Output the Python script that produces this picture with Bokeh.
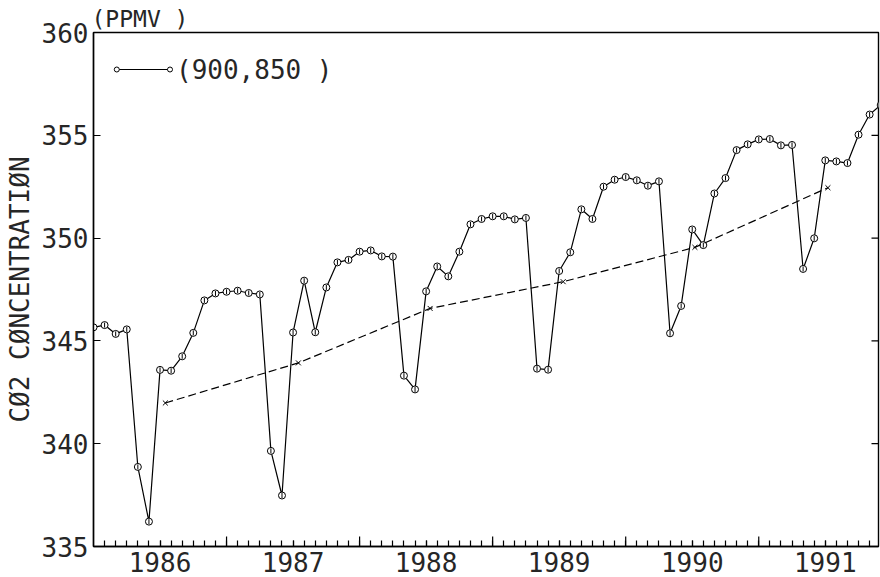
import math
from bokeh.plotting import figure
from bokeh.models import FixedTicker, LinearAxis, Range1d, Label
from bokeh.embed import file_html
from bokeh.resources import INLINE

# ---------------- data ----------------
start_year = 1986
month_index = list(range(72))
co2_monthly = [
    345.66, 345.77, 345.34, 345.56, 338.87, 336.21, 343.59, 343.55, 344.25, 345.39, 346.97, 347.31,
    347.39, 347.44, 347.33, 347.26, 339.65, 337.48, 345.41, 347.93, 345.42, 347.60, 348.82, 348.94,
    349.34, 349.40, 349.11, 349.10, 343.31, 342.64, 347.41, 348.62, 348.14, 349.34, 350.67, 350.93,
    351.06, 351.06, 350.91, 350.98, 343.65, 343.60, 348.40, 349.31, 351.40, 350.93, 352.50, 352.84,
    352.97, 352.81, 352.55, 352.76, 345.37, 346.70, 350.42, 349.66, 352.17, 352.92, 354.28, 354.56,
    354.80, 354.82, 354.51, 354.53, 348.50, 349.99, 353.78, 353.73, 353.65, 355.03, 356.01, 356.47,
]
annual_x = [1986.54, 1987.54, 1988.53, 1989.53, 1990.52, 1991.52]
annual_mean = [341.98, 343.93, 346.58, 347.88, 349.55, 352.45]
year_labels = ["1986", "1987", "1988", "1989", "1990", "1991"]
y_ticks = [335, 340, 345, 350, 355, 360]
series_label = "(900,850 )"
unit_label = "(PPMV )"
y_title = "CØ2 CØNCENTRATIØN"

X_START, X_END = 1986.0, 1991.9
month_x = [start_year + m / 12.0 for m in month_index]
year_centers = [int(y) + 0.5 for y in year_labels]
year_bounds = [int(y) for y in year_labels[1:]]

FONT_NAME = "DejaVu Sans Mono"
INK = "#262626"

p = figure(width=880, height=577, output_backend="svg", toolbar_location=None,
           x_range=Range1d(X_START, X_END), y_range=Range1d(335, 360),
           x_axis_location=None, y_axis_location=None,
           min_border_left=93, min_border_right=2, min_border_top=32, min_border_bottom=31)
p.grid.visible = False
p.outline_line_color = "black"
p.outline_line_width = 1.4
p.background_fill_color = "white"
p.border_fill_color = "white"

# title "(PPMV )" above the frame, left aligned
p.title.text = unit_label
p.title.align = "left"
p.title.text_font = FONT_NAME
p.title.text_font_size = "23px"
p.title.text_font_style = "normal"
p.title.text_color = INK
p.title.standoff = 2
p.title.offset = -2

# left axis with labels and title
yl = LinearAxis(ticker=FixedTicker(ticks=y_ticks))
yl.major_tick_in = 7
yl.major_tick_out = 0
yl.minor_tick_in = 0
yl.minor_tick_out = 0
yl.major_label_standoff = 5
yl.major_label_text_font = FONT_NAME
yl.major_label_text_font_size = "26px"
yl.major_label_text_color = INK
yl.axis_line_color = "black"
yl.axis_line_width = 1.4
yl.axis_label = y_title
yl.axis_label_text_font = FONT_NAME
yl.axis_label_text_font_size = "26px"
yl.axis_label_text_font_style = "normal"
yl.axis_label_text_color = INK
yl.axis_label_standoff = 4
p.add_layout(yl, "left")

# bottom axis: year labels at mid-year, monthly minor ticks
minor = [start_year + m / 12.0 for m in range(1, 71)]
xb = LinearAxis(ticker=FixedTicker(ticks=year_centers, minor_ticks=minor))
xb.major_label_overrides = {c: t for c, t in zip(year_centers, year_labels)}
xb.major_tick_in = 6
xb.major_tick_out = 0
xb.minor_tick_in = 6
xb.minor_tick_out = 0
xb.major_label_standoff = 5
xb.major_label_text_font = FONT_NAME
xb.major_label_text_font_size = "26px"
xb.major_label_text_color = INK
xb.axis_line_color = "black"
xb.axis_line_width = 1.4
xb.major_tick_line_width = 1.2
xb.minor_tick_line_width = 1.2
p.add_layout(xb, "below")

# taller ticks at year boundaries (half of a vertical dash, clipped by the frame)
p.scatter(year_bounds, [335] * len(year_bounds), marker="dash", size=20, angle=math.pi / 2,
          line_color="black", line_width=1.2)
# inward ticks on the right edge (half of a horizontal dash, clipped by the frame)
p.scatter([X_END] * len(y_ticks), y_ticks, marker="dash", size=14,
          line_color="black", line_width=1.2)

# monthly series
p.line(month_x, co2_monthly, line_color="black", line_width=1.2)
p.scatter(month_x, co2_monthly, marker="circle", size=7, line_color="black",
          fill_color="white", line_width=1)
p.scatter(month_x, co2_monthly, marker="dash", size=5, angle=math.pi / 2,
          line_color="black", line_width=1)

# annual means
p.line(annual_x, annual_mean, line_color="black", line_width=1.2, line_dash="8 4")
p.scatter(annual_x, annual_mean, marker="x", size=7, line_color="black", line_width=1)

# legend sample (layout positions)
lx = [1986.175, 1986.575]
ly = [358.2, 358.2]
p.line(lx, ly, line_color="black", line_width=1.2)
p.scatter(lx, ly, marker="circle", size=5, line_color="black", fill_color="white", line_width=1)
p.add_layout(Label(x=1986.62, y=358.2, text=series_label, text_font=FONT_NAME,
                   text_font_size="26px", text_color=INK, text_baseline="middle"))

open("out.html", "w").write(file_html(p, INLINE))
